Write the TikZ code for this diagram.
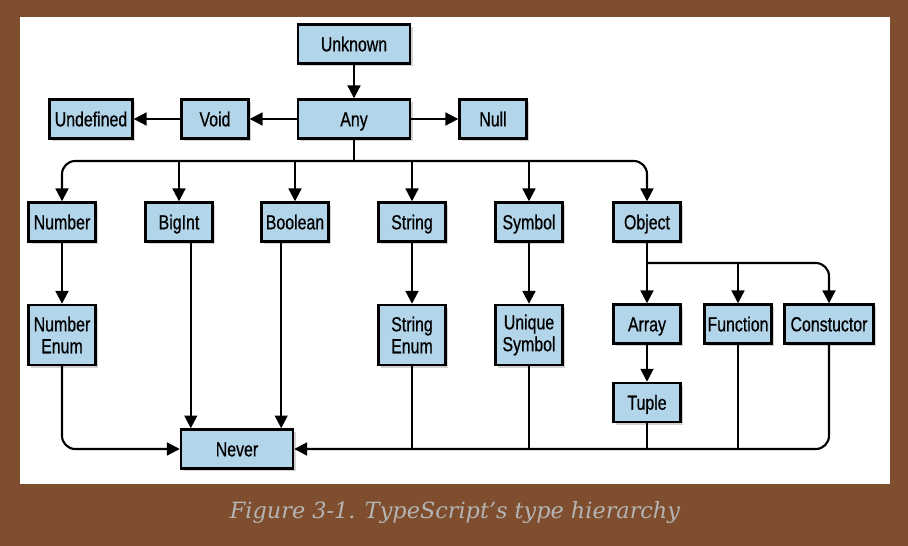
\documentclass[tikz,border=0pt]{standalone}
\usepackage{fontspec}
\usepackage{tikz}
\usetikzlibrary{positioning, arrows.meta, shadows}

\newfontfamily\boxfont{Liberation Sans}[FakeStretch=0.78, FakeBold=0.6]
\newfontfamily\capfont{DejaVu Serif}

\definecolor{pagebrown}{HTML}{7F4E2E}
\definecolor{typeblue}{HTML}{B3D5EA}
\definecolor{capgrey}{HTML}{B4B4B4}

\tikzset{
    basebox/.style={draw, rectangle, line width=1.7pt, fill=typeblue, minimum width=1.675cm,
        minimum height=0.975cm, inner sep=1pt, align=center,
        font=\boxfont\fontsize{14.5}{15.6}\selectfont,
        drop shadow={shadow xshift=2pt, shadow yshift=-2pt, opacity=0.35}},
    tbox/.style={basebox, text height=11pt, text depth=0.6pt},
    tallbox/.style={basebox, minimum height=1.5cm},
    link/.style={line width=1.5pt},
    arr/.style={link, -{Triangle[length=0.32cm, width=0.32cm]}},
    curvy/.style={rounded corners=0.33cm}
}

\begin{document}
\begin{tikzpicture}[x=0.025cm, y=-0.025cm]
    % Page and panel
    \fill[pagebrown] (0,0) rectangle (908,546);
    \fill[white] (20,17) rectangle (890,484);
    \useasboundingbox (0,0) rectangle (908,546);

    % Top types
    \node[tbox, minimum width=2.8cm] (unknown) at (354,44) {Unknown};
    \node[tbox, minimum width=2.8cm] (any) at (354,119) {Any};
    \node[tbox] (void) at (215,119) {Void};
    \node[tbox, minimum width=2.075cm] (undefined) at (91,119) {Undefined};
    \node[tbox] (null) at (493,119) {Null};

    % Primitive types
    \node[tbox] (number) at (62,222) {Number};
    \node[tbox] (bigint) at (179,222) {BigInt};
    \node[tbox] (boolean) at (295,222) {Boolean};
    \node[tbox] (string) at (412,222) {String};
    \node[tbox] (symbol) at (529,222) {Symbol};
    \node[tbox] (object) at (647,222) {Object};

    % Subtypes
    \node[tallbox] (numenum) at (62,335) {Number\\Enum};
    \node[tallbox] (strenum) at (412,335) {String\\Enum};
    \node[tallbox] (unisym) at (529,335) {Unique\\Symbol};
    \node[tbox] (array) at (647,324) {Array};
    \node[tbox] (function) at (738,324) {Function};
    \node[tbox, minimum width=2.225cm] (constuctor) at (829,324) {Constuctor};
    \node[tbox] (tuple) [below=0.925cm of array] {Tuple};

    % Bottom type
    \node[tbox, minimum width=2.8cm] (never) at (237,449) {Never};

    % Arrows from the top
    \draw[arr] (unknown) -- (any);
    \draw[arr] (any) -- (void);
    \draw[arr] (void) -- (undefined);
    \draw[arr] (any) -- (null);

    % Branches below Any
    \coordinate (anybus) at (354,161);
    \draw[link] (any) -- (anybus);
    \draw[arr, curvy] (anybus) -| (number);
    \draw[arr, curvy] (anybus) -| (object);
    \foreach \t in {bigint, boolean, string, symbol}
        \draw[arr] (\t.north |- anybus) -- (\t);

    \draw[arr] (number) -- (numenum);
    \draw[arr] (string) -- (strenum);
    \draw[arr] (symbol) -- (unisym);

    % Branches below Object
    \coordinate (objbus) at (647,263);
    \draw[arr] (object) -- (array);
    \draw[arr] (function.north |- objbus) -- (function);
    \draw[arr, curvy] (objbus) -| (constuctor);
    \draw[arr] (array) -- (tuple);

    % Everything ends in Never
    \coordinate (nevbig) at ([xshift=0.275cm]never.north west);
    \coordinate (nevbool) at ([xshift=-0.325cm]never.north east);
    \draw[arr, curvy] (numenum) |- (never);
    \draw[arr] (bigint.south -| nevbig) -- (nevbig);
    \draw[arr] (boolean.south -| nevbool) -- (nevbool);
    \draw[arr, curvy] (constuctor) |- (never);
    \foreach \t in {strenum, unisym, tuple, function}
        \draw[link] (\t) -- (\t |- never.east);

    % Caption
    \node[font=\capfont\itshape\fontsize{15.9}{18}\selectfont, text=capgrey] (caption) at (455,512)
        {Figure 3-1. TypeScript’s type hierarchy};
\end{tikzpicture}
\end{document}
